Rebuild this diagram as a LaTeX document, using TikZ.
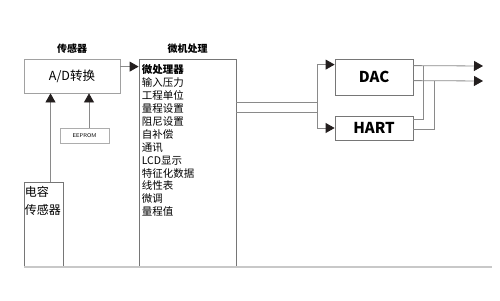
\documentclass[tikz,border=0pt]{standalone}
\usepackage{fontspec}
\newfontfamily\cjk{Noto Sans CJK SC}
\usetikzlibrary{arrows.meta, positioning}
\definecolor{wiregray}{RGB}{138,138,138}
\definecolor{edgegray}{RGB}{118,118,118}
\definecolor{basegray}{RGB}{200,200,200}
\definecolor{tipdark}{RGB}{35,30,30}
\tikzstyle{block} = [rectangle, draw=edgegray, line width=0.8pt, inner sep=0pt, font=\cjk]
\tikzstyle{wire} = [draw=wiregray, line width=0.8pt]
\tikzstyle{arrow} = [wire, -{Triangle[length=9pt, width=10pt, color=tipdark]}]
\tikzstyle{title} = [inner sep=0pt, font=\cjk\bfseries\fontsize{10}{12}\selectfont]
\begin{document}
\begin{tikzpicture}[x=1pt, y=-1pt]
    \useasboundingbox (0,0) rectangle (500,300);
    % Nodes
    \node (ad) [block, draw=wiregray!80, minimum width=96pt, minimum height=34pt, font=\cjk\fontsize{12.5}{14}\selectfont] at (72,76) {A/D转换};
    \node (mcu) [block, minimum width=97pt, minimum height=208pt] at (187.5,163) {};
    \node (funcs) [anchor=north west, inner sep=0pt, align=left, font=\cjk\fontsize{10.5}{12.9}\selectfont] at ([xshift=3pt, yshift=-6pt]mcu.north west)
        {{\bfseries 微处理器}\\输入压力\\工程单位\\量程设置\\阻尼设置\\自补偿\\通讯\\LCD显示\\特征化数据\\线性表\\微调\\量程值};
    \node (eeprom) [block, draw=wiregray!70, minimum width=49pt, minimum height=15pt, font=\sffamily\fontsize{5.5}{6}\selectfont] at (84.5,135.5) {EEPROM};
    \node (cap) [block, minimum width=39pt, minimum height=85pt] at (43.5,224.5) {};
    \node (captext) [anchor=north west, inner sep=0pt, align=left, font=\cjk\fontsize{12}{18}\selectfont] at ([xshift=1pt, yshift=-5pt]cap.north west) {电容\\传感器};
    \node (dac) [block, minimum width=78pt, minimum height=36pt, font=\cjk\bfseries\fontsize{15}{16}\selectfont] at (374,77) {DAC};
    \node (hart) [block, minimum width=78pt, minimum height=24pt, font=\cjk\bfseries\fontsize{15}{16}\selectfont] at (374,128) {HART};

    % Free ends
    \coordinate (busA) at (317,102);
    \coordinate (busB) at (317,112);
    \coordinate (joinA) at (423,66);
    \coordinate (joinB) at (434,81);
    \coordinate (outA) at (483,66);
    \coordinate (outB) at (483,81);
    \coordinate (baseL) at (24,267);
    \coordinate (baseR) at (492,267);

    % Arrows
    \draw [arrow] ([yshift=-8pt]ad.north east) -- ([yshift=-8pt]mcu.north west);
    \draw [arrow] ([xshift=7pt]cap.north) -- ([xshift=7pt]cap.north |- ad.south);
    \draw [arrow] ([xshift=4.5pt]eeprom.north) -- ([xshift=4.5pt]eeprom.north |- ad.south);
    \draw [wire] (mcu.east |- busA) -- (busA);
    \draw [wire] (mcu.east |- busB) -- (busB);
    \draw [wire] (busA) -- (busB);
    \draw [arrow] (busA) |- ([yshift=-6pt]dac.north west);
    \draw [arrow] (busB) |- (hart.west);
    \draw [arrow] ([yshift=-7pt]dac.north east) -- (outA);
    \draw [arrow] ([yshift=-22pt]dac.north east) -- (outB);
    \draw [wire] ([yshift=-4pt]hart.north east) -| (joinA);
    \draw [wire] ([yshift=11pt]hart.south east) -| (joinB);
    \draw [draw=basegray, line width=1.6pt] (baseL) -- (baseR);

    % Labels
    \node (sensortitle) [title, above=5pt of ad] {传感器};
    \node (mcutitle) [title, above=5pt of mcu] {微机处理};
\end{tikzpicture}
\end{document}
